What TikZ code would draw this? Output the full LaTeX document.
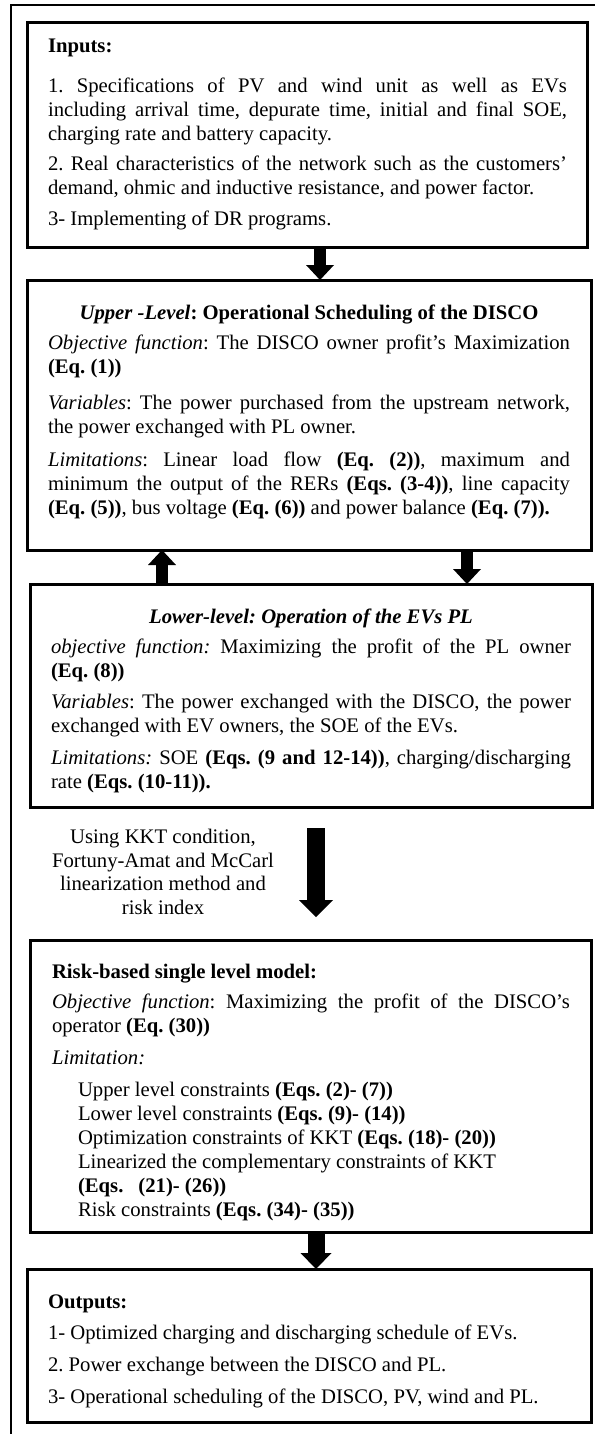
\documentclass[tikz,border=0pt]{standalone}
\usepackage{fontspec}
\setmainfont{Liberation Serif}
\usetikzlibrary{arrows.meta}
\frenchspacing
\newcommand{\dgfont}{\fontsize{20.7}{24}\selectfont\frenchspacing\hyphenpenalty=10000\exhyphenpenalty=10000\tolerance=10000\hbadness=10000}
\begin{document}
\begin{tikzpicture}[x=1pt,y=-1pt,
  box/.style={draw=black, line width=3pt, rectangle, anchor=north west, inner sep=0pt, outer sep=0pt},
  txt/.style={anchor=north west, inner sep=0pt, outer sep=0pt, align=justify, font=\dgfont},
  arrS/.style={draw=black, line width=12pt, -{Triangle[width=28pt,length=15pt,line width=0pt]}},
  arrL/.style={draw=black, line width=18pt, -{Triangle[width=34pt,length=17pt,line width=0pt]}},
  arrM/.style={draw=black, line width=17pt, -{Triangle[width=31pt,length=16pt,line width=0pt]}}
]
\useasboundingbox (0,0) rectangle (594,1434);
% outer frame
\node[draw=black, line width=1.3pt, rectangle, anchor=north west, inner sep=0pt, outer sep=0pt,
      minimum width=620pt, minimum height=1460pt] (frame) at (11,5) {};
% boxes
\node[box, minimum width=560pt, minimum height=224pt] (inputs) at (27,23) {};
\node[box, minimum width=564pt, minimum height=270pt] (upper) at (27,280) {};
\node[box, minimum width=562pt, minimum height=223pt] (lower) at (30,584) {};
\node[box, minimum width=561pt, minimum height=292pt] (single) at (30,940) {};
\node[box, minimum width=564pt, minimum height=153pt] (outputs) at (27,1269) {};
% texts
\node[txt, text width=519pt] (inputsT) at (48,36.2) {\strut\textbf{Inputs:}\par\vspace{16pt}
1. Specifications of PV and wind unit as well as EVs\linebreak including arrival time, depurate time, initial and final SOE,\linebreak charging rate and battery capacity.\par\vspace{6pt}
2. Real characteristics of the network such as the customers’\linebreak demand, ohmic and inductive resistance, and power factor.\par\vspace{7pt}
3- Implementing of DR programs.};
\node[txt, text width=522pt] (upperT) at (48,302.2) {{\centering\strut\textbf{\textit{Upper -Level}: Operational Scheduling of the DISCO}\par}\vspace{6pt}
\textit{Objective function}: The DISCO owner profit’s Maximization\linebreak \textbf{(Eq. (1))}\par\vspace{12pt}
\textit{Variables}: The power purchased from the upstream network,\linebreak the power exchanged with PL owner.\par\vspace{9pt}
\textit{Limitations}: Linear load flow \textbf{(Eq. (2))}, maximum and\linebreak minimum the output of the RERs \textbf{(Eqs. (3-4))}, line capacity\linebreak \textbf{(Eq. (5))}, bus voltage \textbf{(Eq. (6))} and power balance \textbf{(Eq. (7)).}};
\node[txt, text width=520pt] (lowerT) at (51,606.2) {{\centering\strut\textbf{\textit{Lower-level: Operation of the EVs PL}}\par}\vspace{6pt}
\textit{objective function:} Maximizing the profit of the PL owner\linebreak \textbf{(Eq. (8))}\par\vspace{7pt}
\textit{Variables}: The power exchanged with the DISCO, the power\linebreak exchanged with EV owners, the SOE of the EVs.\par\vspace{8pt}
\textit{Limitations:} SOE \textbf{(Eqs. (9 and 12-14))}, charging/discharging\linebreak rate \textbf{(Eqs. (10-11)).}};
\node[anchor=north, inner sep=0pt, outer sep=0pt, align=center, font=\fontsize{20.7}{23.5}\selectfont] (kkt) at (163,827.5) {\strut Using KKT condition,\\Fortuny-Amat and McCarl\\linearization method and\\risk index};
\node[txt, text width=518pt] (singleT) at (52,961.2) {\strut\textbf{Risk-based single level model:}\par\vspace{6pt}
\textit{Objective function}: Maximizing the profit of the DISCO’s\linebreak operator \textbf{(Eq. (30))}\par\vspace{8pt}
\textit{Limitation:}\par\vspace{8pt}
{\leftskip=26pt\relax
Upper level constraints \textbf{(Eqs. (2)- (7))}\par
Lower level constraints \textbf{(Eqs. (9)- (14))}\par
Optimization constraints of KKT \textbf{(Eqs. (18)- (20))}\par
Linearized the complementary constraints of KKT\par
\textbf{(Eqs.\hspace{15pt}(21)- (26))}\par
Risk constraints \textbf{(Eqs. (34)- (35))}\par}};
\node[txt, text width=520pt] (outputsT) at (48,1291.2) {\strut\textbf{Outputs:}\par\vspace{7pt}
1- Optimized charging and discharging schedule of EVs.\par\vspace{8pt}
2. Power exchange between the DISCO and PL.\par\vspace{8pt}
3- Operational scheduling of the DISCO, PV, wind and PL.};
% arrows
\coordinate (c1) at (320,0);
\coordinate (c2) at (162,0);
\coordinate (c3) at (467,0);
\coordinate (c4) at (316,0);
\draw[arrS] (inputs.south -| c1) -- (upper.north -| c1);
\draw[arrS] (lower.north -| c2) -- (upper.south -| c2);
\draw[arrS] (upper.south -| c3) -- (lower.north -| c3);
\draw[arrL, shorten <=21pt, shorten >=23pt] (lower.south -| c4) -- (single.north -| c4);
\draw[arrM] (single.south -| c4) -- (outputs.north -| c4);
\end{tikzpicture}
\end{document}
